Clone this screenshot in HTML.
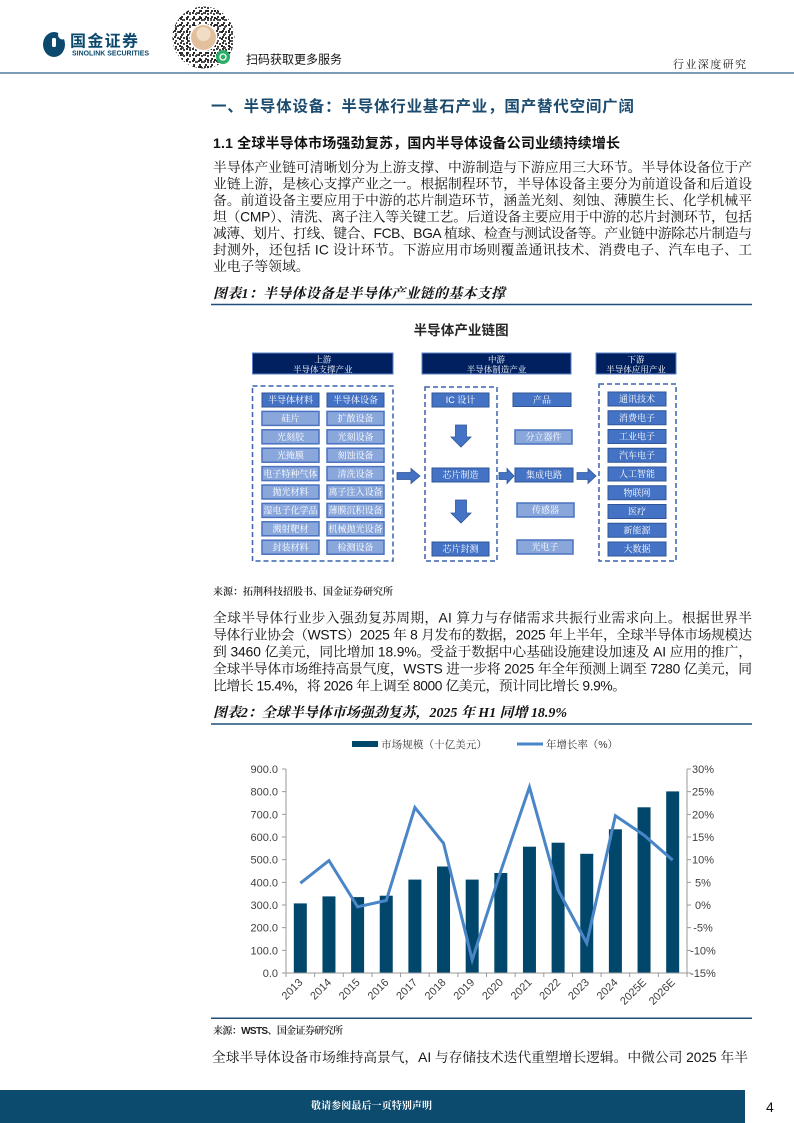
<!DOCTYPE html>
<html><head><meta charset="utf-8"><style>
html,body{margin:0;padding:0;background:#fff}
body{width:794px;height:1123px;overflow:hidden;position:relative}
svg{position:absolute;left:0;top:0}
.b{font-family:"Liberation Sans","Noto Serif CJK SC",serif;font-size:13.8px;fill:#141414}
.s{font-family:"Liberation Sans","Noto Sans CJK SC",sans-serif}
.cap{font-family:"Liberation Serif","Noto Serif CJK SC",serif;font-size:14px;font-weight:bold;font-style:italic;fill:#111}
.src{font-family:"Liberation Sans","Noto Serif CJK SC",serif;font-size:10px;font-weight:600;fill:#222}
.bx{font-family:"Liberation Sans","Noto Serif CJK SC",serif;font-size:9px;fill:#fff;text-anchor:middle}
.hd{font-family:"Liberation Sans","Noto Serif CJK SC",serif;font-size:8.5px;fill:#fff;text-anchor:middle}
.tk{font-family:"Liberation Sans",sans-serif;font-size:11px;fill:#404040}
.dk{fill:#4472c4;stroke:#2f5597;stroke-width:1}
.lt{fill:#8aa7dc;stroke:#4a72c0;stroke-width:1.5}
.ar{fill:#4472c4;stroke:#2f5597;stroke-width:0.8}
</style></head><body>
<svg width="794" height="1123" viewBox="0 0 794 1123" xmlns="http://www.w3.org/2000/svg">
<defs>
<pattern id="qa" width="6" height="6" patternUnits="userSpaceOnUse">
<rect x="0" y="0" width="2" height="2" fill="#333"/><rect x="3" y="1" width="2" height="2" fill="#444"/><rect x="1" y="4" width="2" height="2" fill="#333"/>
</pattern>
<pattern id="qb" width="7" height="7" patternUnits="userSpaceOnUse">
<rect x="4" y="3" width="2" height="2" fill="#222"/><rect x="0" y="5" width="2" height="2" fill="#555"/>
</pattern>
</defs>

<!-- header -->
<ellipse cx="54" cy="44.5" rx="11" ry="12.5" fill="#0b4a6e"/>
<circle cx="62.5" cy="35" r="4.5" fill="#fff"/>
<rect x="52" y="38" width="4" height="9" rx="1.5" fill="#fff"/>
<text x="70" y="46.5" class="s" font-size="16" font-weight="bold" fill="#0b4a6e" textLength="68">国金证券</text>
<text x="72" y="55.5" class="s" font-size="7" font-weight="bold" fill="#0b4a6e" textLength="77" lengthAdjust="spacingAndGlyphs">SINOLINK SECURITIES</text>

<circle cx="203.5" cy="37.5" r="31" fill="#fff"/>
<circle cx="203.5" cy="37.5" r="31" fill="url(#qa)"/>
<circle cx="203.5" cy="37.5" r="31" fill="url(#qb)"/>
<circle cx="203.5" cy="37.5" r="14" fill="#fff"/>
<circle cx="203.5" cy="37.5" r="12.5" fill="#e2c09e"/>
<circle cx="203.5" cy="34" r="7" fill="#f1dcc5"/>
<circle cx="223" cy="57" r="7" fill="#2aae67"/>
<circle cx="223" cy="57" r="3" fill="none" stroke="#fff" stroke-width="1.3"/>
<text x="246" y="63.5" class="s" font-size="12" fill="#111" textLength="96">扫码获取更多服务</text>
<text x="673" y="68" font-family="Liberation Serif,'Noto Serif CJK SC',serif" font-size="11" fill="#222" textLength="73">行业深度研究</text>
<line x1="0" y1="73" x2="794" y2="73" stroke="#7c9bb5" stroke-width="2"/>

<!-- title -->
<text x="211" y="111.7" class="s" font-size="15.5" font-weight="bold" fill="#1b4b6f" textLength="423">一、半导体设备：半导体行业基石产业，国产替代空间广阔</text>
<text x="213" y="148" class="s" font-size="14" font-weight="bold" fill="#111" textLength="407">1.1 全球半导体市场强劲复苏，国内半导体设备公司业绩持续增长</text>

<text class="b" x="213" y="172" textLength="539">半导体产业链可清晰划分为上游支撑、中游制造与下游应用三大环节。半导体设备位于产</text>
<text class="b" x="213" y="188.5" textLength="539">业链上游，是核心支撑产业之一。根据制程环节，半导体设备主要分为前道设备和后道设</text>
<text class="b" x="213" y="205" textLength="539">备。前道设备主要应用于中游的芯片制造环节，涵盖光刻、刻蚀、薄膜生长、化学机械平</text>
<text class="b" x="213" y="221.5" textLength="539">坦（CMP）、清洗、离子注入等关键工艺。后道设备主要应用于中游的芯片封测环节，包括</text>
<text class="b" x="213" y="238" textLength="539">减薄、划片、打线、键合、FCB、BGA 植球、检查与测试设备等。产业链中游除芯片制造与</text>
<text class="b" x="213" y="254.5" textLength="539">封测外，还包括 IC 设计环节。下游应用市场则覆盖通讯技术、消费电子、汽车电子、工</text>
<text class="b" x="213" y="271">业电子等领域。</text>

<text class="cap" x="213" y="298" textLength="292">图表1：半导体设备是半导体产业链的基本支撑</text>
<line x1="211" y1="304.5" x2="752" y2="304.5" stroke="#1f4e79" stroke-width="1.5"/>

<!-- diagram -->
<text x="413.6" y="335" class="s" font-size="13.5" font-weight="bold" fill="#262626" textLength="95">半导体产业链图</text>

<rect x="252.5" y="353" width="140.5" height="21" fill="#002060" stroke="#5b7fc7" stroke-width="1"/>
<text class="hd" x="322.75" y="362.5">上游</text><text class="hd" x="322.75" y="372.5">半导体支撑产业</text>
<rect x="422" y="353" width="149" height="21" fill="#002060" stroke="#5b7fc7" stroke-width="1"/>
<text class="hd" x="496.5" y="362.5">中游</text><text class="hd" x="496.5" y="372.5">半导体制造产业</text>
<rect x="596" y="353" width="80" height="21" fill="#002060" stroke="#5b7fc7" stroke-width="1"/>
<text class="hd" x="636" y="362.5">下游</text><text class="hd" x="636" y="372.5">半导体应用产业</text>

<g fill="none" stroke="#3a62ad" stroke-width="1.5" stroke-dasharray="5 3">
<rect x="252.5" y="386" width="140.5" height="175"/>
<rect x="425" y="387" width="72" height="174"/>
<rect x="599" y="384" width="77" height="177"/>
</g>

<!-- upstream -->
<rect class="dk" x="262" y="393" width="57" height="14"/><text class="bx" x="290.5" y="403.2">半导体材料</text>
<rect class="dk" x="327" y="393" width="57" height="14"/><text class="bx" x="355.5" y="403.2">半导体设备</text>
<rect class="lt" x="262" y="411.4" width="57" height="14"/><text class="bx" x="290.5" y="421.6">硅片</text>
<rect class="lt" x="327" y="411.4" width="57" height="14"/><text class="bx" x="355.5" y="421.6">扩散设备</text>
<rect class="lt" x="262" y="429.8" width="57" height="14"/><text class="bx" x="290.5" y="440">光刻胶</text>
<rect class="lt" x="327" y="429.8" width="57" height="14"/><text class="bx" x="355.5" y="440">光刻设备</text>
<rect class="lt" x="262" y="448.2" width="57" height="14"/><text class="bx" x="290.5" y="458.4">光掩膜</text>
<rect class="lt" x="327" y="448.2" width="57" height="14"/><text class="bx" x="355.5" y="458.4">刻蚀设备</text>
<rect class="lt" x="262" y="466.6" width="57" height="14"/><text class="bx" x="290.5" y="476.8">电子特种气体</text>
<rect class="lt" x="327" y="466.6" width="57" height="14"/><text class="bx" x="355.5" y="476.8">清洗设备</text>
<rect class="lt" x="262" y="485" width="57" height="14"/><text class="bx" x="290.5" y="495.2">抛光材料</text>
<rect class="lt" x="327" y="485" width="57" height="14"/><text class="bx" x="355.5" y="495.2">离子注入设备</text>
<rect class="lt" x="262" y="503.4" width="57" height="14"/><text class="bx" x="290.5" y="513.6">湿电子化学品</text>
<rect class="lt" x="327" y="503.4" width="57" height="14"/><text class="bx" x="355.5" y="513.6">薄膜沉积设备</text>
<rect class="lt" x="262" y="521.8" width="57" height="14"/><text class="bx" x="290.5" y="532">溅射靶材</text>
<rect class="lt" x="327" y="521.8" width="57" height="14"/><text class="bx" x="355.5" y="532">机械抛光设备</text>
<rect class="lt" x="262" y="540.2" width="57" height="14"/><text class="bx" x="290.5" y="550.4">封装材料</text>
<rect class="lt" x="327" y="540.2" width="57" height="14"/><text class="bx" x="355.5" y="550.4">检测设备</text>

<!-- midstream -->
<rect class="dk" x="432" y="393" width="57" height="14"/><text class="bx" x="460.5" y="403.2">IC 设计</text>
<polygon class="ar" points="455.5,425 466.5,425 466.5,437 471,437 461,447 451,437 455.5,437"/>
<rect class="dk" x="432" y="468" width="57" height="14"/><text class="bx" x="460.5" y="478.2">芯片制造</text>
<polygon class="ar" points="455.5,500 466.5,500 466.5,513 471,513 461,523 451,513 455.5,513"/>
<rect class="dk" x="432" y="542" width="57" height="14"/><text class="bx" x="460.5" y="552.2">芯片封测</text>

<rect class="dk" x="513" y="393" width="58" height="13.5"/><text class="bx" x="542" y="403">产品</text>
<rect class="lt" x="515" y="430" width="57" height="14"/><text class="bx" x="543.5" y="440.2">分立器件</text>
<rect class="dk" x="515" y="468" width="58" height="14"/><text class="bx" x="544" y="478.2">集成电路</text>
<rect class="lt" x="517" y="503" width="57" height="14"/><text class="bx" x="545.5" y="513.2">传感器</text>
<rect class="lt" x="517" y="540" width="56" height="14"/><text class="bx" x="545" y="550.2">光电子</text>

<polygon class="ar" points="397,472.5 411,472.5 411,468.5 420,476 411,483.5 411,479.5 397,479.5"/>
<polygon class="ar" points="499,472.5 507,472.5 507,468.5 514,476 507,483.5 507,479.5 499,479.5"/>
<polygon class="ar" points="577,472.5 588,472.5 588,468.5 596,476 588,483.5 588,479.5 577,479.5"/>

<!-- downstream -->
<rect class="dk" x="608" y="392" width="58" height="14"/><text class="bx" x="637" y="402.2">通讯技术</text>
<rect class="dk" x="608" y="410.75" width="58" height="14"/><text class="bx" x="637" y="420.95">消费电子</text>
<rect class="dk" x="608" y="429.5" width="58" height="14"/><text class="bx" x="637" y="439.7">工业电子</text>
<rect class="dk" x="608" y="448.25" width="58" height="14"/><text class="bx" x="637" y="458.45">汽车电子</text>
<rect class="dk" x="608" y="467" width="58" height="14"/><text class="bx" x="637" y="477.2">人工智能</text>
<rect class="dk" x="608" y="485.75" width="58" height="14"/><text class="bx" x="637" y="495.95">物联网</text>
<rect class="dk" x="608" y="504.5" width="58" height="14"/><text class="bx" x="637" y="514.7">医疗</text>
<rect class="dk" x="608" y="523.25" width="58" height="14"/><text class="bx" x="637" y="533.45">新能源</text>
<rect class="dk" x="608" y="542" width="58" height="14"/><text class="bx" x="637" y="552.2">大数据</text>

<text class="src" x="213" y="595" textLength="180">来源：拓荆科技招股书、国金证券研究所</text>

<text class="b" x="213" y="622.5" textLength="539">全球半导体行业步入强劲复苏周期，AI 算力与存储需求共振行业需求向上。根据世界半</text>
<text class="b" x="213" y="639.5" textLength="539">导体行业协会（WSTS）2025 年 8 月发布的数据，2025 年上半年，全球半导体市场规模达</text>
<text class="b" x="213" y="656.5" textLength="539">到 3460 亿美元，同比增加 18.9%。受益于数据中心基础设施建设加速及 AI 应用的推广，</text>
<text class="b" x="213" y="673.5" textLength="539">全球半导体市场维持高景气度，WSTS 进一步将 2025 年全年预测上调至 7280 亿美元，同</text>
<text class="b" x="213" y="690.5" textLength="413">比增长 15.4%，将 2026 年上调至 8000 亿美元，预计同比增长 9.9%。</text>

<text class="cap" x="213" y="717" textLength="354">图表2：全球半导体市场强劲复苏，2025 年 H1 同增 18.9%</text>
<line x1="211" y1="724" x2="752" y2="724" stroke="#1f4e79" stroke-width="1.5"/>

<!-- legend -->
<rect x="352" y="741" width="26" height="6" fill="#01476c"/>
<text x="381" y="748" font-family="Liberation Sans,'Noto Serif CJK SC',serif" font-size="10.5" fill="#333" textLength="106">市场规模（十亿美元）</text>
<line x1="517" y1="744" x2="543" y2="744" stroke="#4a86c7" stroke-width="3"/>
<text x="546" y="748" font-family="Liberation Sans,'Noto Serif CJK SC',serif" font-size="10.5" fill="#333" textLength="72">年增长率（%）</text>

<!-- chart -->
<g fill="#01476c">
<rect x="293.82" y="903.4" width="13" height="69.6"/>
<rect x="322.46" y="896.4" width="13" height="76.6"/>
<rect x="351.11" y="897.1" width="13" height="75.9"/>
<rect x="379.75" y="895.7" width="13" height="77.3"/>
<rect x="408.39" y="879.6" width="13" height="93.4"/>
<rect x="437.04" y="866.5" width="13" height="106.5"/>
<rect x="465.68" y="879.6" width="13" height="93.4"/>
<rect x="494.32" y="873.0" width="13" height="100"/>
<rect x="522.96" y="846.7" width="13" height="126.3"/>
<rect x="551.61" y="842.7" width="13" height="130.3"/>
<rect x="580.25" y="853.8" width="13" height="119.2"/>
<rect x="608.89" y="829.3" width="13" height="143.7"/>
<rect x="637.54" y="807.3" width="13" height="165.7"/>
<rect x="666.18" y="791.4" width="13" height="181.6"/>
</g>
<g stroke="#9a9a9a" stroke-width="1">
<line x1="286" y1="769" x2="286" y2="973"/>
<line x1="687" y1="769" x2="687" y2="973"/>
<line x1="286" y1="973" x2="687" y2="973"/>
<path d="M282 769H286M282 791.67H286M282 814.33H286M282 837H286M282 859.67H286M282 882.33H286M282 905H286M282 927.67H286M282 950.33H286M282 973H286"/>
<path d="M687 769H691M687 791.67H691M687 814.33H691M687 837H691M687 859.67H691M687 882.33H691M687 905H691M687 927.67H691M687 950.33H691M687 973H691"/>
<path d="M286 973V977M314.64 973V977M343.29 973V977M371.93 973V977M400.57 973V977M429.21 973V977M457.86 973V977M486.5 973V977M515.14 973V977M543.79 973V977M572.43 973V977M601.07 973V977M629.71 973V977M658.36 973V977M687 973V977"/>
</g>
<polyline fill="none" stroke="#4a86c7" stroke-width="3" stroke-linejoin="miter" points="300.32,883.2 328.96,860.6 357.61,906.8 386.25,900.5 414.89,807.5 443.54,843.3 472.18,959.9 500.82,871.0 529.46,787.1 558.11,890.0 586.75,943.1 615.39,815.7 644.04,835.2 672.68,860.1"/>

<g class="tk" text-anchor="end">
<text x="278" y="977">0.0</text><text x="278" y="954.3">100.0</text><text x="278" y="931.7">200.0</text><text x="278" y="909">300.0</text><text x="278" y="886.3">400.0</text><text x="278" y="863.7">500.0</text><text x="278" y="841">600.0</text><text x="278" y="818.3">700.0</text><text x="278" y="795.7">800.0</text><text x="278" y="773">900.0</text>
</g>
<g class="tk" text-anchor="middle">
<text x="703" y="977">-15%</text><text x="703" y="954.3">-10%</text><text x="703" y="931.7">-5%</text><text x="703" y="909">0%</text><text x="703" y="886.3">5%</text><text x="703" y="863.7">10%</text><text x="703" y="841">15%</text><text x="703" y="818.3">20%</text><text x="703" y="795.7">25%</text><text x="703" y="773">30%</text>
</g>
<g class="tk" text-anchor="end">
<text transform="translate(303.3,983) rotate(-45)">2013</text>
<text transform="translate(332,983) rotate(-45)">2014</text>
<text transform="translate(360.6,983) rotate(-45)">2015</text>
<text transform="translate(389.3,983) rotate(-45)">2016</text>
<text transform="translate(417.9,983) rotate(-45)">2017</text>
<text transform="translate(446.5,983) rotate(-45)">2018</text>
<text transform="translate(475.2,983) rotate(-45)">2019</text>
<text transform="translate(503.8,983) rotate(-45)">2020</text>
<text transform="translate(532.5,983) rotate(-45)">2021</text>
<text transform="translate(561.1,983) rotate(-45)">2022</text>
<text transform="translate(589.8,983) rotate(-45)">2023</text>
<text transform="translate(618.4,983) rotate(-45)">2024</text>
<text transform="translate(647,983) rotate(-45)">2025E</text>
<text transform="translate(675.7,983) rotate(-45)">2026E</text>
</g>

<line x1="211" y1="1018.3" x2="752" y2="1018.3" stroke="#1f4e79" stroke-width="1.5"/>
<text class="src" x="213" y="1034" textLength="130">来源：WSTS、国金证券研究所</text>

<text class="b" x="212" y="1062" textLength="536">全球半导体设备市场维持高景气，AI 与存储技术迭代重塑增长逻辑。中微公司 2025 年半</text>

<!-- footer -->
<rect x="0" y="1090" width="745" height="33" fill="#0c4a6e"/>
<text x="311" y="1109" font-family="Liberation Sans,'Noto Serif CJK SC',serif" font-size="10" font-weight="bold" fill="#fff" textLength="121">敬请参阅最后一页特别声明</text>
<text x="766" y="1112" font-family="Liberation Sans,sans-serif" font-size="14" fill="#111">4</text>
</svg>
</body></html>
